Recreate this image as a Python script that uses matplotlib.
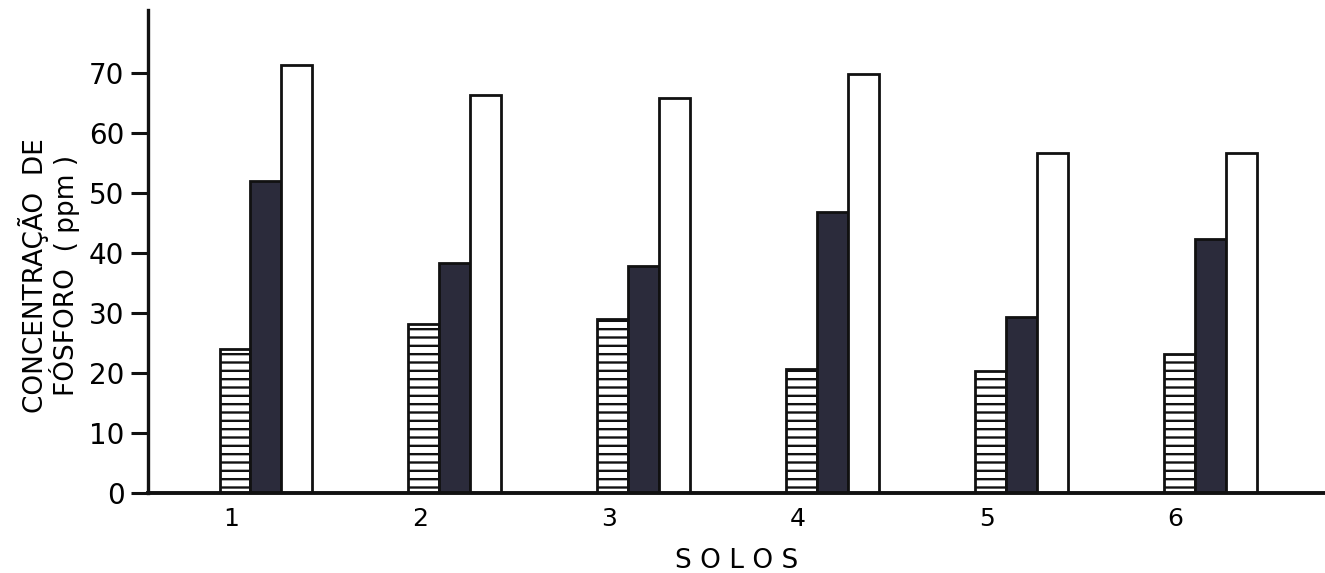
import matplotlib
matplotlib.use("Agg")
import matplotlib.pyplot as plt
import numpy as np

categories = ["1", "2", "3", "4", "5", "6"]
serie_hachurada = [24, 28.2, 29, 20.7, 20.3, 23.2]
serie_escura = [52, 38.3, 37.8, 46.8, 29.3, 42.3]
serie_branca = [71.3, 66.3, 65.8, 69.8, 56.7, 56.7]
yticks = [0, 10, 20, 30, 40, 50, 60, 70]

plt.rcParams['font.family'] = ['DejaVu Sans']
plt.rcParams['hatch.linewidth'] = 1.7

fig = plt.figure(figsize=(13.25, 5.73), dpi=100)
ax = fig.add_axes([148/1325, 80/573, 1 - 148/1325, 483/573])

x = np.arange(1, len(categories) + 1)
w = 0.163
ink = "#111111"
ax.bar(x, serie_hachurada, width=w, color="white", edgecolor=ink,
       hatch="--", linewidth=2.0)
ax.bar(x + w, serie_escura, width=w, color="#2b2b3b", edgecolor=ink,
       linewidth=2.0)
ax.bar(x + 2 * w, serie_branca, width=w, color="white", edgecolor=ink,
       linewidth=2.0)

ax.set_xlim(0.54, 6.77)
ax.set_ylim(0, 80.5)
ax.set_yticks(yticks)
ax.set_yticklabels([str(v) for v in yticks], fontsize=20)
ax.set_xticks(x - 0.02)
ax.set_xticklabels(categories, fontsize=18)
ax.tick_params(axis="x", length=0, pad=10)
ax.tick_params(axis="y", length=12, width=2.2, pad=5, color=ink)

for s in ["top", "right"]:
    ax.spines[s].set_visible(False)
ax.spines["left"].set_linewidth(2.4)
ax.spines["bottom"].set_linewidth(2.8)
ax.spines["left"].set_color(ink)
ax.spines["bottom"].set_color(ink)

ax.set_xlabel("S O L O S", fontsize=19, labelpad=12)
ax.set_ylabel("CONCENTRAÇÃO  DE\nFÓSFORO  ( ppm )", fontsize=19,
              linespacing=1.0)
ax.yaxis.set_label_coords(-0.058, 0.45)

fig.savefig("out.png", dpi=100)
